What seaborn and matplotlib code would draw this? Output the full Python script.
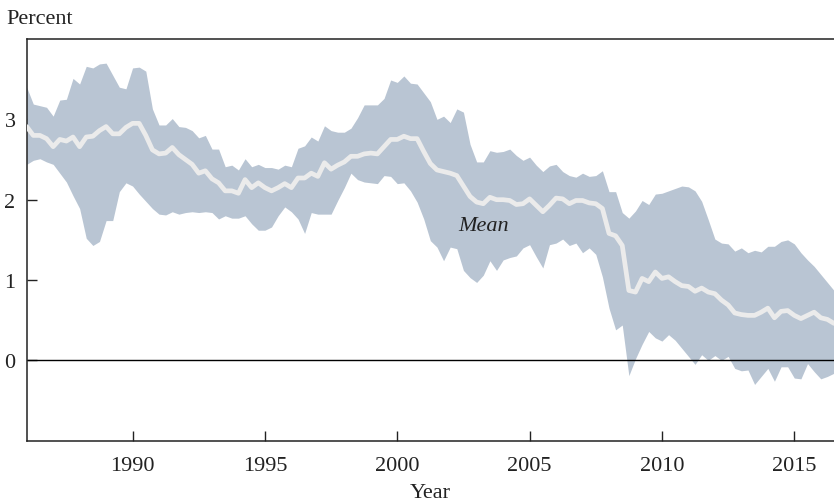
import numpy as np
import pandas as pd
import matplotlib
matplotlib.use("Agg")
import matplotlib.pyplot as plt
import seaborn as sns

# quarterly, 1986Q1 .. 2016Q3
start_year = 1986
upper = [3.40, 3.19, 3.17, 3.15, 3.04, 3.24, 3.25, 3.51, 3.44, 3.66, 3.64, 3.69,
         3.70, 3.55, 3.40, 3.38, 3.64, 3.65, 3.60, 3.13, 2.93, 2.93, 3.01, 2.91,
         2.90, 2.86, 2.77, 2.80, 2.63, 2.63, 2.41, 2.43, 2.37, 2.51, 2.41, 2.44,
         2.40, 2.40, 2.38, 2.43, 2.41, 2.64, 2.67, 2.78, 2.73, 2.92, 2.86, 2.84,
         2.84, 2.89, 3.02, 3.18, 3.18, 3.18, 3.26, 3.49, 3.46, 3.54, 3.45, 3.44,
         3.33, 3.22, 3.00, 3.04, 2.96, 3.13, 3.09, 2.69, 2.47, 2.47, 2.61, 2.59,
         2.60, 2.63, 2.55, 2.49, 2.53, 2.43, 2.35, 2.42, 2.44, 2.35, 2.30, 2.28,
         2.33, 2.29, 2.30, 2.36, 2.10, 2.10, 1.84, 1.77, 1.86, 1.99, 1.94, 2.07,
         2.08, 2.11, 2.14, 2.17, 2.16, 2.11, 1.98, 1.75, 1.51, 1.46, 1.45, 1.36,
         1.40, 1.34, 1.37, 1.35, 1.42, 1.42, 1.48, 1.50, 1.45, 1.34, 1.25, 1.17,
         1.07, 0.97, 0.87]
mean = [2.91, 2.80, 2.80, 2.76, 2.66, 2.75, 2.73, 2.78, 2.66, 2.78, 2.79, 2.86,
        2.91, 2.82, 2.82, 2.90, 2.95, 2.95, 2.80, 2.62, 2.57, 2.58, 2.65, 2.56,
        2.50, 2.44, 2.33, 2.36, 2.26, 2.21, 2.11, 2.11, 2.08, 2.25, 2.15, 2.21,
        2.15, 2.11, 2.15, 2.20, 2.15, 2.27, 2.27, 2.33, 2.29, 2.46, 2.38, 2.43,
        2.47, 2.54, 2.54, 2.57, 2.58, 2.57, 2.66, 2.75, 2.75, 2.79, 2.76, 2.76,
        2.60, 2.45, 2.37, 2.35, 2.33, 2.30, 2.17, 2.04, 1.97, 1.95, 2.03, 2.00,
        2.00, 1.99, 1.94, 1.95, 2.01, 1.93, 1.85, 1.93, 2.02, 2.01, 1.95, 1.99,
        1.99, 1.96, 1.95, 1.89, 1.58, 1.55, 1.43, 0.87, 0.85, 1.02, 0.98, 1.10,
        1.02, 1.04, 0.98, 0.93, 0.92, 0.86, 0.90, 0.85, 0.83, 0.75, 0.69, 0.59,
        0.57, 0.56, 0.56, 0.60, 0.65, 0.53, 0.61, 0.62, 0.56, 0.52, 0.56, 0.60,
        0.53, 0.51, 0.46]
lower = [2.44, 2.49, 2.51, 2.47, 2.44, 2.33, 2.22, 2.05, 1.89, 1.52, 1.43, 1.48,
         1.74, 1.74, 2.10, 2.21, 2.17, 2.07, 1.98, 1.89, 1.82, 1.81, 1.85, 1.82,
         1.84, 1.85, 1.84, 1.85, 1.84, 1.76, 1.80, 1.77, 1.77, 1.80, 1.70, 1.62,
         1.62, 1.66, 1.80, 1.91, 1.85, 1.76, 1.58, 1.84, 1.82, 1.82, 1.82, 1.99,
         2.15, 2.33, 2.25, 2.22, 2.21, 2.20, 2.30, 2.29, 2.20, 2.21, 2.11, 1.97,
         1.76, 1.49, 1.41, 1.24, 1.41, 1.39, 1.12, 1.03, 0.97, 1.06, 1.24, 1.12,
         1.25, 1.28, 1.30, 1.40, 1.44, 1.29, 1.15, 1.44, 1.46, 1.51, 1.43, 1.46,
         1.34, 1.40, 1.32, 1.04, 0.65, 0.38, 0.44, -0.19, 0.02, 0.20, 0.36, 0.28,
         0.24, 0.32, 0.25, 0.15, 0.05, -0.05, 0.07, 0.00, 0.06, 0.00, 0.05, -0.10,
         -0.13, -0.12, -0.30, -0.20, -0.10, -0.26, -0.08, -0.08, -0.22, -0.23, -0.04, -0.14,
         -0.23, -0.20, -0.16]

df = pd.DataFrame({"upper": upper, "mean": mean, "lower": lower})
df["date"] = start_year + np.arange(len(df)) * 0.25

sns.set_theme(style="ticks")
plt.rcParams["font.family"] = ["Liberation Serif", "DejaVu Serif"]

fig = plt.figure(figsize=(8.34, 5.02), dpi=100)
ax = fig.add_axes([0.032, 0.1201, 0.968, 0.8002])

ax.fill_between(df["date"], df["lower"], df["upper"], color="#b9c5d3",
                linewidth=0, zorder=1)
ax.axhline(0, color="black", linewidth=1.0, zorder=2)
sns.lineplot(data=df, x="date", y="mean", ax=ax, color="#ebebeb",
             linewidth=3.4, zorder=3)
ax.text(2003.27, 1.68, "Mean", style="italic", fontsize=16,
        ha="center", va="center", color="#222222", zorder=4)

ax.set_xlim(1986, 2016.5)
ax.set_ylim(-1, 4)
ax.set_xticks([1990, 1995, 2000, 2005, 2010, 2015])
ax.set_yticks([0, 1, 2, 3])
ax.tick_params(direction="in", length=7, width=1, labelsize=16,
               colors="#222222", pad=11)
ax.tick_params(axis="y", pad=8)
ax.set_ylabel("")
ax.set_xlabel("Year", fontsize=16, color="#222222", labelpad=6)

for side in ["top", "left", "bottom"]:
    ax.spines[side].set_linewidth(1.1)
    ax.spines[side].set_color("#222222")
ax.spines["right"].set_visible(False)

fig.text(0.008, 1 - 19 / 502, "Percent", fontsize=16, color="#222222",
         ha="left", va="center")

plt.savefig("out.png", dpi=100)
